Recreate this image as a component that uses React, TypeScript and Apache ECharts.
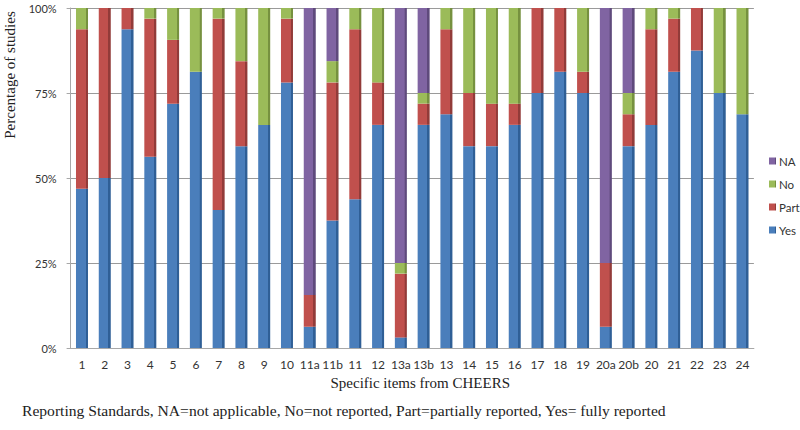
import React, { useEffect, useRef } from "react";
import * as echarts from "echarts";

const categories = ["1","2","3","4","5","6","7","8","9","10","11a","11b","11","12","13a","13b","13","14","15","16","17","18","19","20a","20b","20","21","22","23","24"];
const yesValues = [46.875,50,93.75,56.25,71.875,81.25,40.625,59.375,65.625,78.125,6.25,37.5,43.75,65.625,3.125,65.625,68.75,59.375,59.375,65.625,75,81.25,75,6.25,59.375,65.625,81.25,87.5,75,68.75];
const partValues = [46.875,50,6.25,40.625,18.75,0,56.25,25,0,18.75,9.375,40.625,50,12.5,18.75,6.25,25,15.625,12.5,6.25,25,18.75,6.25,18.75,9.375,28.125,15.625,12.5,0,0];
const noValues = [6.25,0,0,3.125,9.375,18.75,3.125,15.625,34.375,3.125,0,6.25,6.25,21.875,3.125,3.125,6.25,25,28.125,28.125,0,0,18.75,0,6.25,6.25,3.125,0,25,31.25];
const naValues = [0,0,0,0,0,0,0,0,0,0,84.375,15.625,0,0,75,25,0,0,0,0,0,0,0,75,25,0,0,0,0,0];
const yTicks = [0, 25, 50, 75, 100];

const sideGrad = (c: string, d: string) => ({
  type: "linear", x: 0, y: 0, x2: 1, y2: 0,
  colorStops: [
    { offset: 0, color: c },
    { offset: 0.8, color: c },
    { offset: 0.81, color: d },
    { offset: 1, color: d },
  ],
});

export default function App() {
  const ref = useRef<HTMLDivElement>(null);
  useEffect(() => {
    if (!ref.current) return;
    const chart = echarts.init(ref.current, null, { renderer: "svg" });
    const mk = (name: string, data: number[], c: string, d: string) => ({
      name,
      type: "bar",
      stack: "total",
      barWidth: 12,
      data,
      itemStyle: { color: sideGrad(c, d) },
      emphasis: { disabled: true },
    });
    chart.setOption({
      animation: false,
      backgroundColor: "#ffffff",
      grid: { left: 70.6, right: 46.1, top: 8, bottom: 82 },
      legend: {
        orient: "vertical",
        left: 764,
        top: 150,
        itemWidth: 7,
        itemHeight: 7,
        itemGap: 11,
        icon: "rect",
        data: ["NA", "No", "Part", "Yes"],
        textStyle: { fontFamily: "Lato", fontSize: 11.5, color: "#333", padding: [0, 0, 0, -2] },
      },
      xAxis: {
        type: "category",
        data: categories,
        name: "Specific items from CHEERS",
        nameLocation: "middle",
        nameGap: 27,
        nameTextStyle: { fontFamily: "Liberation Serif", fontSize: 15, color: "#222", padding: [0, 0, 0, 16] },
        axisLine: { lineStyle: { color: "#a8a8a8" } },
        axisTick: { lineStyle: { color: "#a8a8a8" }, length: 4 },
        axisLabel: { fontFamily: "Lato", fontSize: 12, color: "#333", margin: 10, interval: 0 },
      },
      yAxis: {
        type: "value",
        min: 0,
        max: 100,
        interval: 25,
        axisLine: { show: true, lineStyle: { color: "#a8a8a8" } },
        axisTick: { show: true, lineStyle: { color: "#a8a8a8" }, length: 4 },
        splitLine: { lineStyle: { color: "#9a9a9a" } },
        axisLabel: {
          fontFamily: "Lato",
          fontSize: 11,
          color: "#333",
          margin: 14,
          padding: [12, 0, 0, 0],
          formatter: (v: number) => (yTicks.includes(v) ? v + "%" : ""),
        },
      },
      graphic: [
        {
          type: "text",
          x: 10,
          y: 75,
          rotation: Math.PI / 2,
          style: {
            text: "Percentage of studies",
            fontFamily: "Liberation Serif",
            fontSize: 15,
            fill: "#222",
            align: "center",
            verticalAlign: "middle",
          },
        },
        {
          type: "text",
          left: 22,
          top: 402,
          style: {
            text: "Reporting Standards, NA=not applicable, No=not reported, Part=partially reported, Yes= fully reported",
            fontFamily: "Liberation Serif",
            fontSize: 15.6,
            fill: "#222",
          },
        },
      ],
      series: [
        mk("Yes", yesValues, "#4a7ebb", "#2f5f96"),
        mk("Part", partValues, "#c0504d", "#923b39"),
        mk("No", noValues, "#9bbb59", "#76913f"),
        mk("NA", naValues, "#8064a2", "#5f4a7c"),
      ],
    });
    return () => chart.dispose();
  }, []);
  return <div ref={ref} style={{ position: "fixed", left: 0, top: 0, width: 800, height: 430 }} />;
}
